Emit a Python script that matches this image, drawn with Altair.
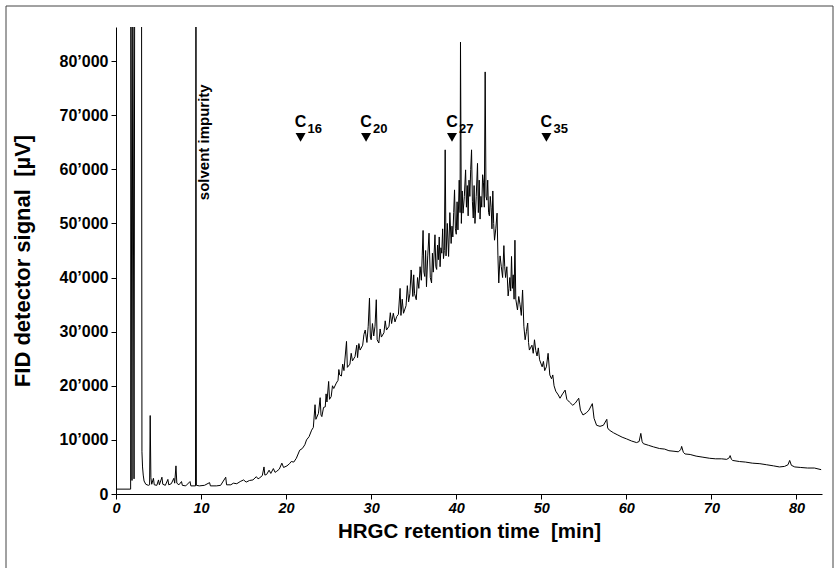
import altair as alt
import pandas as pd

# ---- chromatogram: (retention time [min], signal [uV]) ----
SOLVENT = [(0.0, 900), (1.72, 900), (1.75, 100000), (1.88, 2500), (1.98, 100000),
           (2.12, 2800), (2.2, 100000), (3.0, 100000), (3.05, 7800), (3.12, 5000),
           (3.2, 3500), (3.3, 2400), (3.5, 1800), (3.8, 1600), (3.95, 1700),
           (4.02, 14500), (4.1, 3000), (4.2, 1800)]

BASELINE = [(4.4, 2900), (4.5, 1700), (4.8, 1600), (5.0, 2600), (5.1, 1700), (5.4, 3100),
            (5.5, 1800), (5.8, 1600), (6.1, 2700), (6.2, 1700), (6.5, 1900), (6.8, 2900),
            (6.9, 2000), (7.05, 5200), (7.15, 2000), (7.4, 1700), (7.7, 2300), (7.8, 1600),
            (8.2, 1500), (8.7, 2300), (8.8, 1500), (9.35, 1500), (9.4, 100000), (9.45, 1600),
            (9.8, 1500), (10.4, 1600), (11.0, 2100), (11.1, 1500), (11.8, 1500), (12.3, 1600),
            (12.9, 3100), (13.0, 1700), (13.5, 1700)]

RISE = [(13.8, 2000), (14.2, 1900), (14.6, 2300), (15.0, 2600), (15.3, 2200), (15.7, 2500),
        (16.1, 2600), (16.5, 3200), (16.7, 2800), (16.9, 3000), (17.2, 3400), (17.4, 5000),
        (17.5, 3500), (17.7, 3600), (18.0, 4400), (18.2, 3800), (18.5, 4700), (18.7, 4000),
        (18.9, 4200), (19.2, 4600), (19.5, 5700), (19.7, 4900), (20.1, 5200), (20.4, 5600),
        (20.6, 6000), (20.9, 5900), (21.2, 6600), (21.6, 8100), (21.9, 8400), (22.2, 9100),
        (22.4, 10000), (22.7, 10600), (23.0, 11800), (23.2, 12300), (23.4, 16500), (23.5, 13800),
        (23.8, 14900), (24.0, 17800), (24.1, 14600), (24.2, 14300), (24.4, 16000), (24.6, 16100),
        (24.7, 18500), (24.8, 17000), (25.0, 20800), (25.1, 17500), (25.3, 18000), (25.45, 20000),
        (25.6, 19500), (25.9, 20500), (26.1, 21000), (26.2, 23000), (26.3, 22000), (26.5, 21800),
        (26.65, 24000), (26.8, 22800), (27.1, 28200), (27.2, 23400), (27.5, 24000), (27.65, 26000),
        (27.8, 24600), (28.1, 25400), (28.3, 27500), (28.4, 25200), (28.55, 27800), (28.7, 26600),
        (29.0, 27500), (29.15, 29500), (29.3, 30300), (29.5, 28000), (29.65, 31000), (29.8, 36200),
        (29.9, 29000), (30.0, 28500), (30.15, 31500), (30.3, 29200), (30.45, 31000), (30.6, 35900),
        (30.7, 28500), (30.9, 27900), (31.05, 30500), (31.2, 29000), (31.5, 29800), (31.65, 32000),
        (31.8, 30300), (32.1, 31000), (32.25, 33500), (32.4, 31500), (32.6, 33400), (32.8, 31800),
        (33.0, 32800), (33.2, 33200), (33.4, 38000), (33.5, 33000), (33.65, 36000), (33.8, 33400),
        (34.1, 34800), (34.25, 38500), (34.4, 35500), (34.55, 37000), (34.7, 41400), (34.9, 36500),
        (35.0, 40500), (35.1, 37000), (35.3, 35900), (35.45, 40000), (35.6, 38000), (35.75, 42000)]

HUMP = [(35.9, 39500), (36.0, 44000), (36.1, 48700), (36.2, 41000), (36.3, 40200), (36.4, 45000),
        (36.5, 38300), (36.65, 44000), (36.8, 48200), (36.95, 40000), (37.1, 39000), (37.2, 44500),
        (37.3, 41000), (37.5, 47900), (37.6, 42000), (37.7, 41500), (37.8, 46000), (37.9, 43300),
        (38.0, 47500), (38.1, 42000), (38.2, 45500), (38.3, 44500), (38.4, 49000), (38.5, 43500),
        (38.6, 45000), (38.7, 63600), (38.8, 44000), (38.95, 50000), (39.1, 43900), (39.25, 52000),
        (39.4, 46300), (39.5, 49500), (39.6, 47500), (39.7, 52000), (39.8, 56200), (39.9, 49000),
        (40.0, 48000), (40.1, 54000), (40.2, 48800), (40.35, 58000), (40.45, 52000), (40.5, 83500),
        (40.6, 50000), (40.7, 56000), (40.8, 51900), (40.95, 55000), (41.1, 59900), (41.2, 53000),
        (41.3, 57000), (41.4, 51400), (41.5, 58000), (41.6, 55000), (41.7, 60000), (41.8, 63600),
        (41.9, 54000), (42.0, 51000), (42.1, 57000), (42.2, 50000), (42.35, 55000), (42.5, 61100),
        (42.6, 52000), (42.7, 58000), (42.8, 50800), (42.9, 55000), (43.0, 53000), (43.1, 59000),
        (43.2, 57500), (43.3, 53000), (43.4, 78000), (43.5, 55000), (43.6, 54300), (43.7, 58000),
        (43.8, 52000), (43.9, 51400), (44.0, 55000), (44.1, 53000), (44.2, 49000), (44.3, 56000),
        (44.4, 50000), (44.5, 46900), (44.65, 49000), (44.8, 51900), (44.9, 44000), (45.0, 39000),
        (45.15, 44000), (45.3, 42000), (45.45, 40000), (45.6, 45900), (45.7, 42000), (45.8, 40000),
        (45.95, 42000), (46.1, 36600), (46.2, 38000), (46.3, 40000), (46.4, 37500), (46.5, 43900),
        (46.6, 38000), (46.7, 40500), (46.8, 36000), (46.9, 46900), (47.0, 36000), (47.2, 34000),
        (47.35, 36500), (47.5, 35000), (47.65, 33000), (47.8, 37700), (47.95, 31000), (48.1, 28500),
        (48.25, 30000), (48.4, 31600), (48.5, 28000), (48.6, 26600), (48.9, 27500), (49.05, 26000),
        (49.2, 28500), (49.35, 26500), (49.5, 25500), (49.65, 27000), (49.8, 24800), (50.1, 23500),
        (50.25, 24500), (50.4, 22800), (50.6, 23500), (50.8, 26000), (51.0, 22000), (51.2, 21300),
        (51.35, 22000), (51.5, 20000), (51.7, 19000), (52.0, 18300)]

TAIL = [(52.2, 17700), (52.5, 18500), (52.8, 19200), (53.0, 17500), (53.3, 17000), (53.7, 16400),
        (54.0, 16800), (54.4, 17700), (54.6, 15500), (54.9, 14600), (55.3, 15000), (55.6, 15500),
        (56.0, 16700), (56.2, 14000), (56.5, 12700), (56.9, 12500), (57.3, 12700), (57.7, 13800),
        (57.8, 12200), (58.0, 11800), (58.5, 11300), (59.0, 10900), (59.5, 10500), (60.0, 10200),
        (60.6, 9800), (61.2, 9500), (61.5, 9700), (61.7, 11200), (61.85, 9700), (62.0, 9300),
        (62.6, 9000), (63.2, 8700), (63.9, 8400), (64.5, 8300), (65.0, 8000), (65.6, 7900),
        (66.1, 7800), (66.4, 8200), (66.5, 8800), (66.7, 7700), (66.9, 7400), (67.5, 7300),
        (68.2, 7000), (69.0, 6800), (69.8, 6600), (70.5, 6500), (71.2, 6500), (71.8, 6400),
        (72.1, 6700), (72.2, 7100), (72.35, 6400), (72.5, 6200), (73.3, 6000), (74.0, 5900),
        (74.8, 5700), (75.7, 5600), (76.5, 5400), (77.3, 5200), (78.0, 5000), (78.6, 5100),
        (79.0, 5400), (79.2, 6200), (79.4, 5300), (79.8, 5000), (80.5, 4900), (81.3, 4800),
        (82.1, 4800), (82.9, 4500)]

# alkane markers
MARKER_T = [21.7, 29.4, 39.5, 50.6]
MARKER_SUB = ["16", "20", "27", "35"]
MARKER_V = 65900

SOLVENT_LABEL = "solvent impurity"
SOLVENT_LABEL_T = 10.3
SOLVENT_LABEL_V = 54300

X_DOMAIN = [0, 83]
Y_DOMAIN = [0, 86300]
X_TICKS = [0, 10, 20, 30, 40, 50, 60, 70, 80]
Y_TICKS = [0, 10000, 20000, 30000, 40000, 50000, 60000, 70000, 80000]

FONT = "Liberation Sans"
W, H = 706, 467

df = pd.DataFrame(SOLVENT + BASELINE + RISE + HUMP + TAIL, columns=["t", "v"])
markers = pd.DataFrame({"t": MARKER_T, "v": [MARKER_V] * len(MARKER_T), "sub": MARKER_SUB})
solvent_df = pd.DataFrame({"t": [SOLVENT_LABEL_T], "v": [SOLVENT_LABEL_V], "label": [SOLVENT_LABEL]})

xscale = alt.Scale(domain=X_DOMAIN, nice=False, zero=False)
yscale = alt.Scale(domain=Y_DOMAIN, nice=False)

x_axis = alt.Axis(
    values=X_TICKS, grid=False, labelFlush=False,
    labelFont=FONT, labelFontSize=14.5, labelFontWeight="bold", labelFontStyle="italic",
    labelColor="black", labelPadding=2, tickSize=5, tickColor="black",
    domainColor="black", domainWidth=1,
    title="HRGC retention time\u00a0\u00a0[min]", titleFont=FONT, titleFontSize=20.5,
    titleFontWeight="bold", titleColor="black", titleX=W / 2, titleY=43,
    titleAlign="center", titleBaseline="alphabetic",
)
y_axis = alt.Axis(
    values=Y_TICKS, grid=False,
    labelExpr="datum.value == 0 ? '0' : format(datum.value / 1000, 'd') + '\u2019000'",
    labelFont=FONT, labelFontSize=16, labelFontWeight="bold", labelColor="black",
    labelPadding=3, tickSize=5, tickColor="black", domainColor="black", domainWidth=1,
    title="FID detector signal\u00a0\u00a0[\u00b5V]", titleFont=FONT, titleFontSize=22,
    titleFontWeight="bold", titleColor="black", titleX=-94, titleY=H / 2,
    titleAlign="center", titleBaseline="middle", titleAngle=270,
)

X = alt.X("t:Q", scale=xscale, axis=x_axis)
Y = alt.Y("v:Q", scale=yscale, axis=y_axis)

line = alt.Chart(df).mark_line(color="black", strokeWidth=1, clip=True).encode(x=X, y=Y)

frame = alt.Chart(alt.Data(values=[{}])).mark_rect(
    fillOpacity=0, stroke="#444444", strokeWidth=1
).encode(x=alt.value(-110), x2=alt.value(717), y=alt.value(-21), y2=alt.value(600))

solvent_text = alt.Chart(solvent_df).mark_text(
    angle=270, align="left", baseline="middle", font=FONT, fontSize=15,
    fontWeight="bold", color="black"
).encode(x=X, y=Y, text="label:N")

tri = alt.Chart(markers).mark_point(
    shape="triangle-down", filled=True, size=100, color="black", opacity=1
).encode(x=X, y=Y)

c_text = alt.Chart(markers).mark_text(
    text="C", align="center", baseline="alphabetic", dy=-10, font=FONT,
    fontSize=16, fontWeight="bold", color="black"
).encode(x=X, y=Y)

sub_text = alt.Chart(markers).mark_text(
    align="left", baseline="alphabetic", dx=7, dy=-4.5, font=FONT,
    fontSize=13, fontWeight="bold", color="black"
).encode(x=X, y=Y, text="sub:N")

chart = alt.layer(frame, line, solvent_text, tri, c_text, sub_text).properties(
    width=W, height=H,
    autosize=alt.AutoSizeParams(type="none"),
    padding={"left": 116, "top": 27, "right": 18, "bottom": 74},
    background="white",
).configure_view(stroke=None)

chart.save("out.html", embed_options={"renderer": "svg", "actions": False})
